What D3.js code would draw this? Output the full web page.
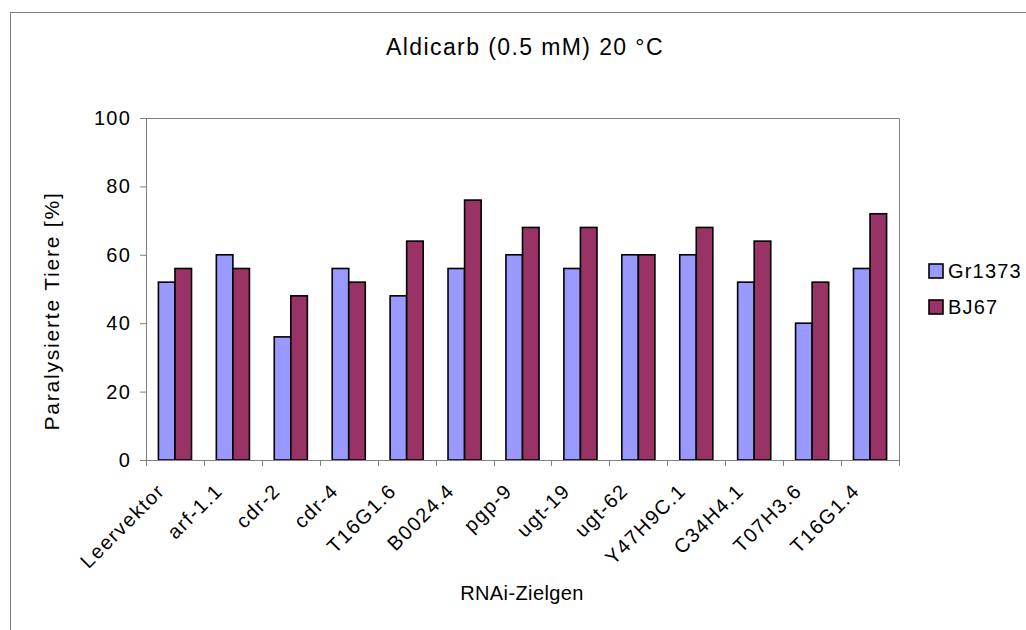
<!DOCTYPE html>
<html>
<head>
<meta charset="utf-8">
<script src="https://cdn.jsdelivr.net/npm/d3@7"></script>
<style>
  body { margin: 0; background: #fff; }
  text { font-family: "Liberation Sans", Arial, sans-serif; fill: #000; }
</style>
</head>
<body>
<script>
var categories = ["Leervektor", "arf-1.1", "cdr-2", "cdr-4", "T16G1.6", "B0024.4", "pgp-9",
                  "ugt-19", "ugt-62", "Y47H9C.1", "C34H4.1", "T07H3.6", "T16G1.4"];
var seriesNames = ["Gr1373", "BJ67"];
var gr1373 = [52, 60, 36, 56, 48, 56, 60, 56, 60, 60, 52, 40, 56];
var bj67   = [56, 56, 48, 52, 64, 76, 68, 68, 60, 68, 64, 52, 72];
var yTicks = [0, 20, 40, 60, 80, 100];
var colors = ["#9999ff", "#993366"];

var width = 1026,
    height = 630;

var margin = {left: 146, right: 899, top: 118, bottom: 460};

var svg = d3.select("body").append("svg")
    .attr("width", width)
    .attr("height", height);

// outer chart frame (runs off the right/bottom edge like the original)
svg.append("rect")
    .attr("x", 10.5)
    .attr("y", 12.5)
    .attr("width", 1040)
    .attr("height", 640)
    .attr("fill", "none")
    .attr("stroke", "#808080")
    .attr("stroke-width", 1);

var x0 = d3.scaleBand()
    .domain(categories)
    .range([margin.left, margin.right])
    .paddingInner(0)
    .paddingOuter(0);

var x1 = d3.scaleBand()
    .domain(seriesNames)
    .range([0, x0.bandwidth()])
    .paddingInner(0)
    .paddingOuter(0.75);

var y = d3.scaleLinear()
    .domain([0, 100])
    .range([margin.bottom, margin.top]);

// plot border (top and right)
svg.append("path")
    .attr("d", "M" + margin.left + "," + (margin.top + 0.5) + "H" + (margin.right + 0.5) + "V" + margin.bottom)
    .attr("fill", "none")
    .attr("stroke", "#808080");

var rows = categories.map(function(c, i) {
  return {cat: c, values: [gr1373[i], bj67[i]]};
});

var groups = svg.append("g").selectAll("g")
    .data(rows)
  .enter().append("g")
    .attr("transform", function(d) { return "translate(" + x0(d.cat) + ",0)"; });

groups.selectAll("rect")
    .data(function(d) { return d.values.map(function(v, j) { return {s: seriesNames[j], v: v, j: j}; }); })
  .enter().append("rect")
    .attr("x", function(d) { return x1(d.s); })
    .attr("y", function(d) { return y(d.v); })
    .attr("width", x1.bandwidth())
    .attr("height", function(d) { return y(0) - y(d.v); })
    .attr("fill", function(d) { return colors[d.j]; })
    .attr("stroke", "#000")
    .attr("stroke-width", 1.6);

// y axis
var yAxis = svg.append("g")
    .attr("transform", "translate(" + margin.left + ",0)")
    .call(d3.axisLeft(y).tickValues(yTicks).tickSize(6).tickPadding(9).tickSizeOuter(0));
yAxis.select(".domain").attr("stroke", "#808080");
yAxis.selectAll(".tick line").attr("stroke", "#808080");
yAxis.selectAll(".tick text")
    .style("font-size", "20px")
    .style("letter-spacing", "1.2px")
    .attr("fill", "#000");

// x axis: ticks on category boundaries
var xAxis = svg.append("g")
    .attr("transform", "translate(0," + margin.bottom + ")");
xAxis.append("line")
    .attr("x1", margin.left - 6).attr("x2", margin.right + 1)
    .attr("y1", 0.5).attr("y2", 0.5)
    .attr("stroke", "#808080");
var bounds = categories.map(function(c) { return x0(c); }).concat([margin.right]);
xAxis.selectAll(".bt")
    .data(bounds)
  .enter().append("line")
    .attr("class", "bt")
    .attr("x1", function(d) { return Math.round(d) + 0.5; })
    .attr("x2", function(d) { return Math.round(d) + 0.5; })
    .attr("y1", 0).attr("y2", 6)
    .attr("stroke", "#808080");

xAxis.selectAll(".xl")
    .data(categories)
  .enter().append("text")
    .attr("class", "xl")
    .attr("text-anchor", "end")
    .attr("transform", function(d) {
      var cx = x0(d) + x0.bandwidth() / 2 - 9;
      return "translate(" + cx + ",32) rotate(-45)";
    })
    .style("font-size", "20px")
    .style("letter-spacing", "1.5px")
    .text(function(d) { return d; });

// titles
svg.append("text")
    .attr("x", 525)
    .attr("y", 55)
    .attr("text-anchor", "middle")
    .style("font-size", "23px")
    .style("letter-spacing", "1.4px")
    .text("Aldicarb (0.5 mM) 20 \u00b0C");

svg.append("text")
    .attr("transform", "translate(59,311) rotate(-90)")
    .attr("text-anchor", "middle")
    .style("font-size", "21px")
    .style("letter-spacing", "1.8px")
    .text("Paralysierte Tiere [%]");

svg.append("text")
    .attr("x", 522)
    .attr("y", 600)
    .attr("text-anchor", "middle")
    .style("font-size", "20px")
    .style("letter-spacing", "0.4px")
    .text("RNAi-Zielgen");

// legend
var legend = svg.append("g").selectAll("g")
    .data(seriesNames)
  .enter().append("g")
    .attr("transform", function(d, i) { return "translate(929," + (264 + i * 36) + ")"; });

legend.append("rect")
    .attr("width", 14)
    .attr("height", 14)
    .attr("fill", function(d, i) { return colors[i]; })
    .attr("stroke", "#000")
    .attr("stroke-width", 1.6);

legend.append("text")
    .attr("x", 19)
    .attr("y", 14)
    .style("font-size", "20px")
    .style("letter-spacing", "1.2px")
    .text(function(d) { return d; });
</script>
</body>
</html>
